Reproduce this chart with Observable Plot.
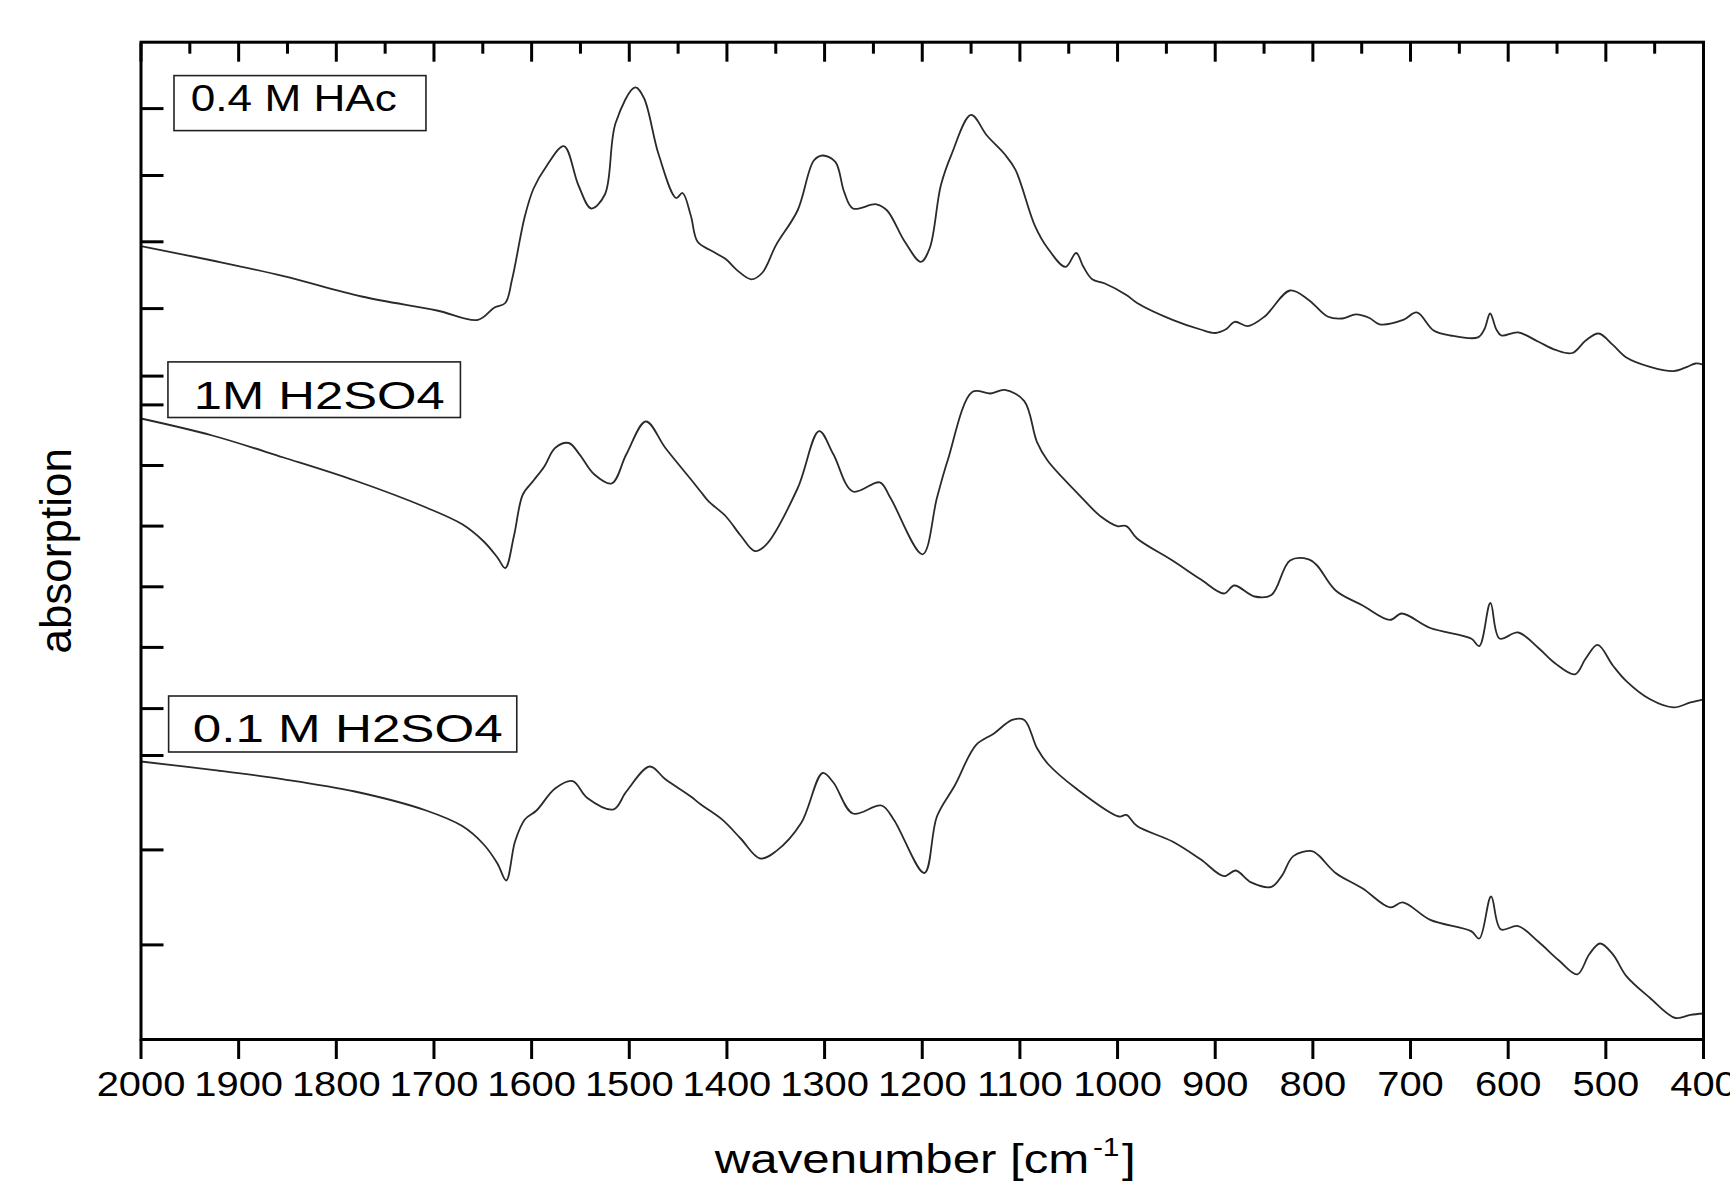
<!DOCTYPE html>
<html>
<head>
<meta charset="utf-8">
<script src="https://cdn.jsdelivr.net/npm/d3@7"></script>
<script src="https://cdn.jsdelivr.net/npm/@observablehq/plot@0.6"></script>
<style>
  html, body { margin: 0; padding: 0; background: #fff; }
  svg { display: block; }
</style>
</head>
<body>
<div id="chart"></div>
<script>
// ---- data (absorption in arbitrary units) ----
const seriesNames = ["0.4 M HAc", "1M H2SO4", "0.1 M H2SO4"];

const hacWave = [2000,1927,1854,1774,1697,1655,1638,1627,1620,1607,1598,1585,1567,1552,1539,1525,1514,1494,1485,1470,1452,1445.5,1437,1430,1415.4,1401,1390,1375,1364,1349.6,1327.7,1311,1302,1289,1280,1271,1247,1236,1218,1201.4,1192.3,1181,1170,1150,1133.8,1115.5,1104.5,1084.5,1071.7,1053.3,1042.4,1035,1026,1013,991,980,943.7,915,900,889,880,866.7,849.4,823.4,804.3,785,769.7,755.9,742,731.7,707.5,693.6,676.3,659,631,624.4,618.5,612.2,607,589.8,569,551.7,534.4,520.6,507.4,492.8,479,454.7,430.6,416.7,408,400];
const hacAbs = [793.4,779,763.4,743,729,719.6,732,736.5,760.2,823,851,873,893.4,854,831,845,916.5,952.1,941.5,885.2,841.5,846.5,824,797.7,788.4,780.2,769.6,760.2,766.5,794.6,829,879,884,877.7,847.7,831,835.2,829,798,777.7,791.5,854,885.2,924.6,904,885.2,869.6,813.4,791.5,772.7,786.5,772.7,760.2,756,744.6,736.5,719.6,710,706.5,710.2,717.7,713.4,723,749,739.6,723,721,725.2,721.5,715.2,719.6,727.1,709,704,702.1,710.2,726,710.2,704,707.1,697.7,689.6,686.5,699,706,694.6,682.1,672.7,668.4,672.7,676,674.6];

const h2so41Wave = [2000,1927,1854,1781,1708,1671,1649,1635,1627,1618,1609,1598,1587,1576,1562,1551,1536,1518,1503,1483,1463,1437,1427,1419,1401,1386,1371.5,1360,1327.7,1305.6,1291,1271,1243.5,1232.5,1199.7,1185,1174,1148.5,1130,1115.5,1095.5,1082.6,1071.7,1042.4,1016.8,1000.3,991,980,943.8,915,891,880.5,859.8,842.4,823.4,804.3,795.7,776.7,749,721,709,679.8,638,629.6,618.2,608.9,589.8,569,551.7,531.6,520.6,508.4,492.8,479,454.7,430.6,413.3,400];
const h2so41Abs = [621,604,582,559,532,515.2,498,482,471.5,504,545,559,573,591.5,596.5,585.2,565.2,556,585.2,618,591.5,560.2,548,538.4,523,504,488.4,494.6,551,608.4,585.2,548,557.1,541.5,485.2,541.5,579,647.7,646,649.6,638.4,597.7,579,547.7,522.7,513.4,513.4,501,479,460.2,446,454,443,444.6,479,480.2,474,449,434,419.6,426,411.5,401,393.4,436.5,401,407,391.5,376,365.2,381,394.6,374,358.4,340.2,332.1,337.1,340.2];

const h2so401Wave = [2000,1927,1854,1781,1708,1671,1649,1635,1626,1617,1607,1595,1576,1558,1543,1516,1503,1479,1463,1437,1427,1404.5,1386,1366,1349.6,1324,1302,1291,1271,1241.8,1229,1197.8,1185,1166.7,1144.8,1126.5,1108,1095.5,1082.6,1071.7,1042.4,998.5,991,980,943.8,915,891,879,863.2,842.4,832,820,801,794,776.7,749,721,708,679.8,638,629.6,617.5,607.7,589.8,569,548,529.2,517,506,492.8,479,454.7,428.8,413.3,400];
const h2so401Abs = [278,269.6,260.2,248,229,213.4,195,176,159,198,220,229,251,258.4,241.5,230.2,248,273,260.2,243,235.2,219.6,201,181,188.4,216.5,266.5,257,226,234,219.6,166.5,223,254,294.6,306,319.6,319.6,291.5,276,251,223,224.6,213.4,198,180.2,163.4,169,157.1,152.7,163.4,183.4,188.4,184,166.5,151,132.1,137.1,119.6,108.4,101,143,110.2,113.4,97.7,79,65.2,85.2,96,85.2,63.4,41.5,21.5,24.6,26];

const xTickLabels = [2000,1900,1800,1700,1600,1500,1400,1300,1200,1100,1000,900,800,700,600,500,400];
const xMinorTicks = [1950,1850,1750,1650,1550,1450,1350,1250,1150,1050,950,850,750,650,550,450];
const yTickPositions = [930.9,864,797.7,730.9,663.4,634.6,574,513.4,452.7,392.1,330.9,284,189.6,94.6];
const xTitle = "wavenumber [cm-1]";
const yTitle = "absorption";

// ---- build table ----
const waves = [hacWave, h2so41Wave, h2so401Wave];
const absVals = [hacAbs, h2so41Abs, h2so401Abs];
const spectra = seriesNames.flatMap((name, s) =>
  waves[s].map((w, i) => ({series: name, wave: w, abs: absVals[s][i]})));

// label boxes (annotation layout, in data units)
const boxes = [
  {series: seriesNames[0], x1: 1965.7, x2: 1707.7, y1: 908.4, y2: 963.4, tx: 1949, ty: 928.5, len: 206, fs: 37},
  {series: seriesNames[1], x1: 1971.9, x2: 1672.4, y1: 621.5, y2: 677.1, tx: 1946, ty: 631, len: 251, fs: 39},
  {series: seriesNames[2], x1: 1971.2, x2: 1614.7, y1: 287, y2: 343, tx: 1947, ty: 298, len: 310, fs: 39}
];

const font = "'Liberation Sans', Arial, Helvetica, sans-serif";

const chart = Plot.plot({
  width: 1730,
  height: 1188,
  marginLeft: 140.5,
  marginRight: 27,
  marginTop: 41.7,
  marginBottom: 149,
  x: {domain: [2000, 400]},
  y: {domain: [0, 997.3]},
  style: {fontFamily: font, color: "black", background: "white", overflow: "visible"},
  marks: [
    Plot.line(spectra, {x: "wave", y: "abs", z: "series", stroke: "#2a2a2a", strokeWidth: 1.8, curve: "catmull-rom"}),
    Plot.axisX({anchor: "bottom", ticks: xTickLabels, tickSize: 20, tickPadding: 12, strokeWidth: 3,
      fontSize: 35, tickFormat: d => String(d), label: null}),
    Plot.axisX({anchor: "top", ticks: xTickLabels, tickSize: 19, insetTop: 19, strokeWidth: 3, fill: "none", label: null}),
    Plot.axisX({anchor: "top", ticks: xMinorTicks, tickSize: 11, insetTop: 11, strokeWidth: 3, fill: "none", label: null}),
    Plot.axisY({anchor: "left", ticks: yTickPositions, tickSize: 23, insetLeft: 23, strokeWidth: 3, fill: "none", label: null}),
    Plot.rect(boxes, {x1: "x1", x2: "x2", y1: "y1", y2: "y2", fill: "white", stroke: "#222", strokeWidth: 1.6}),
    Plot.text(boxes, {x: "tx", y: "ty", text: "series", textAnchor: "start", lineAnchor: "bottom", fontSize: d => d.fs, fill: "black"}),
    Plot.text([xTitle], {frameAnchor: "bottom", textAnchor: "middle", dx: 3, dy: 133.7, lineAnchor: "bottom", fontSize: 41, fill: "black"}),
    Plot.text([yTitle], {frameAnchor: "left", textAnchor: "middle", dx: -70, dy: 10, rotate: -90, lineAnchor: "bottom", fontSize: 44, fill: "black"}),
    Plot.frame({stroke: "black", strokeWidth: 3})
  ]
});

document.getElementById("chart").appendChild(chart);

// ---- text styling tweaks: the reference typography is horizontally widened ----
const ns = "http://www.w3.org/2000/svg";
const S = 1.14;
chart.querySelectorAll("text").forEach(t => {
  const content = t.textContent;
  const box = boxes.find(b => b.series === content);
  if (box) {
    t.setAttribute("textLength", box.len);
    t.setAttribute("lengthAdjust", "spacingAndGlyphs");
    return;
  }
  let scale = S;
  if (content === xTitle) {
    scale = 1.2;
    t.textContent = "";
    const a = document.createElementNS(ns, "tspan"); a.textContent = "wavenumber [cm";
    const b = document.createElementNS(ns, "tspan"); b.textContent = "-1";
    b.setAttribute("dy", "-17"); b.setAttribute("font-size", "25"); b.setAttribute("dx", "3");
    const c = document.createElementNS(ns, "tspan"); c.textContent = "]"; c.setAttribute("dy", "17"); c.setAttribute("dx", "2");
    t.append(a, b, c);
  }
  const tr = t.getAttribute("transform");
  if (!tr || /rotate/.test(tr)) return;
  t.setAttribute("transform", tr + ` scale(${scale},1)`);
});
</script>
</body>
</html>
